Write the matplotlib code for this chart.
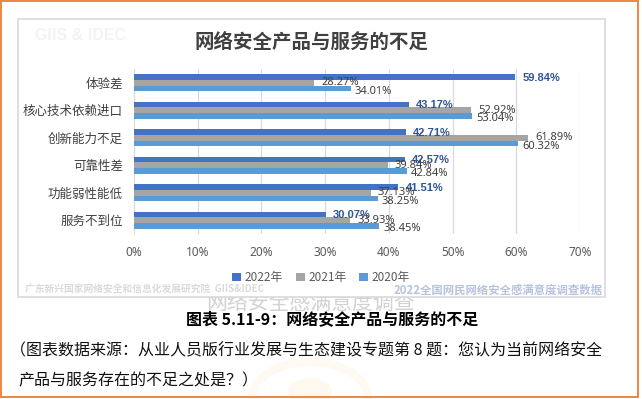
import matplotlib
matplotlib.use("Agg")
import matplotlib.pyplot as plt
from matplotlib.patches import Rectangle, Circle
import numpy as np

plt.rcParams['font.family'] = ['Noto Sans CJK SC', 'DejaVu Sans']

# ---------------- data ----------------
categories = ["体验差", "核心技术依赖进口", "创新能力不足", "可靠性差", "功能弱性能低", "服务不到位"]
series_names = ["2022年", "2021年", "2020年"]
v2022 = [59.84, 43.17, 42.71, 42.57, 41.51, 30.07]
v2021 = [28.27, 52.92, 61.89, 39.84, 37.13, 33.93]
v2020 = [34.01, 53.04, 60.32, 42.84, 38.25, 38.45]
xticks = [0, 10, 20, 30, 40, 50, 60, 70]
xtick_labels = ["0%", "10%", "20%", "30%", "40%", "50%", "60%", "70%"]

title = "网络安全产品与服务的不足"
caption = "图表 5.11-9：网络安全产品与服务的不足"
para1 = "（图表数据来源：从业人员版行业发展与生态建设专题第 8 题：您认为当前网络安全"
para2 = "产品与服务存在的不足之处是？）"
footer_left = "广东新兴国家网络安全和信息化发展研究院  GIIS&IDEC"
footer_right = "2022全国网民网络安全感满意度调查数据"
watermark = "网络安全感满意度调查"
logo = "GIIS & IDEC"

colors = ["#4472C4", "#A5A5A5", "#5B9BD5"]
NUM_FONT = ['Liberation Sans Narrow', 'Noto Sans', 'DejaVu Sans']
BOLD_FONT = ['Liberation Sans', 'DejaVu Sans']

W, H = 642, 399
fig = plt.figure(figsize=(W / 100, H / 100), dpi=100)
fig.patch.set_facecolor("white")

def fx(x):
    return x / W

def fy(y):
    return 1 - y / H

# page frame (orange)
fig.patches.append(Rectangle((fx(1), fy(397)), 637 / W, 396 / H, transform=fig.transFigure,
                             fill=False, ec="#ED7D31", lw=1.3, zorder=0.2))

# faint seal
fig.patches.append(Circle((fx(310), fy(398)), 58 / W, transform=fig.transFigure,
                          fill=False, ec="#FEF9F1", lw=6, zorder=0.1))
fig.patches.append(Circle((fx(310), fy(392)), 22 / W, transform=fig.transFigure,
                          fc="#FEF8EE", ec="none", zorder=0.1))

# watermark text partly hidden by the panel
fig.text(fx(310), fy(303), watermark, ha="center", va="center", fontsize=15,
         color="#D2D2D2", zorder=0.5)

# chart panel
fig.patches.append(Rectangle((fx(17.5), fy(297)), (605 - 17.5) / W, (297 - 18.5) / H,
                             transform=fig.transFigure, fc="white", ec="#D9D9D9",
                             lw=1.2, zorder=1))

# ---------------- axes ----------------
ax = fig.add_axes([fx(134), fy(234), (580 - 134) / W, 165 / H])
ax.set_zorder(3)
ax.patch.set_alpha(0)

y = np.arange(len(categories))
bh = 0.203
offsets = [-bh, 0, bh]
all_vals = [v2022, v2021, v2020]
for vals, off, c, name in zip(all_vals, offsets, colors, series_names):
    ax.barh(y + off, vals, height=bh, color=c, label=name, zorder=2)

ax.set_xlim(0, 70)
ax.set_ylim(5.5, -0.5)
ax.set_xticks(xticks)
ax.set_xticklabels(xtick_labels, family=NUM_FONT, fontsize=8.5, color="#595959")
ax.set_yticks(y)
ax.set_yticklabels(categories, fontsize=9, color="#404040")
ax.tick_params(axis="x", length=0, pad=9)
ax.tick_params(axis="y", length=0, pad=8)
for s in ax.spines.values():
    s.set_visible(False)
ax.grid(axis="x", color="#D9D9D9", lw=0.9, zorder=0)
ax.set_axisbelow(True)

# data labels
for i in y:
    ax.annotate(f"{v2022[i]:.2f}%", xy=(v2022[i], i - bh), xytext=(5, -0.5),
                textcoords="offset points", ha="left", va="center",
                family=BOLD_FONT, fontsize=8, fontweight="bold", color="#2F5597", zorder=5)
    ax.annotate(f"{v2021[i]:.2f}%", xy=(v2021[i], i), xytext=(5, 0),
                textcoords="offset points", ha="left", va="center",
                family=NUM_FONT, fontsize=8, color="#404040", zorder=5)
    ax.annotate(f"{v2020[i]:.2f}%", xy=(v2020[i], i + bh), xytext=(3, -2.2),
                textcoords="offset points", ha="left", va="center",
                family=NUM_FONT, fontsize=8, color="#404040", zorder=5)

# legend
handles, labels = ax.get_legend_handles_labels()
leg = fig.legend(handles, labels, loc="center", bbox_to_anchor=(fx(321), fy(277.5)),
                 ncol=3, frameon=False, fontsize=8.5, handlelength=0.75, handleheight=0.75,
                 handletextpad=0.3, columnspacing=1.1, borderaxespad=0)
for t in leg.get_texts():
    t.set_color("#595959")
leg.set_zorder(4)

# panel texts
fig.text(fx(312), fy(42), title, ha="center", va="center", fontsize=14,
         fontweight="bold", color="#404040", zorder=4)
fig.text(fx(35), fy(35), logo, ha="left", va="center", fontsize=11.5,
         fontweight="bold", family=['Liberation Sans', 'DejaVu Sans'], color="#F3F3F3", zorder=4)
fig.text(fx(25), fy(290), footer_left, ha="left", va="center", fontsize=7,
         fontweight="bold", color="#DADADA", zorder=4)
fig.text(fx(603), fy(290), footer_right, ha="right", va="center", fontsize=8.2,
         fontweight="bold", color="#B7C3DD", zorder=4)

# caption and paragraph
fig.text(fx(332), fy(319), caption, ha="center", va="center", fontsize=11.5,
         fontweight="bold", color="black", zorder=4)
fig.text(fx(9.5), fy(351), para1, ha="left", va="center", fontsize=11.5,
         color="#111111", zorder=4)
fig.text(fx(18), fy(381), para2, ha="left", va="center", fontsize=11.5,
         color="#111111", zorder=4)

fig.savefig("out.png", dpi=100, facecolor="white")
